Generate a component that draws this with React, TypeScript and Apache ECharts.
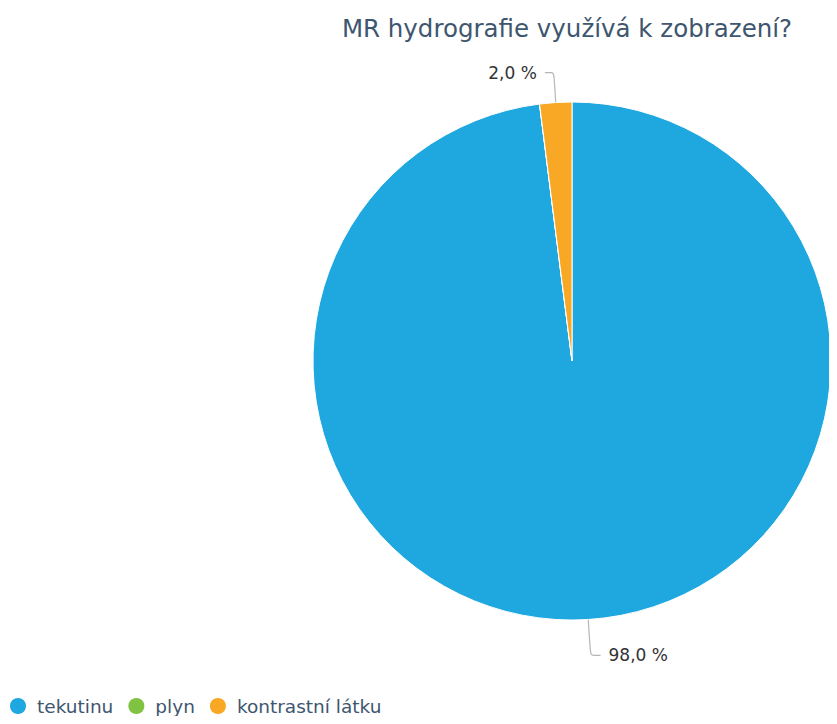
import React, { useEffect, useRef } from "react";
import * as echarts from "echarts";

const titleText = "MR hydrografie využívá k zobrazení?";
const categories = ["tekutinu", "plyn", "kontrastní látku"];
const values = [98.0, 0.0, 2.0];
const colors = ["#1fa8e0", "#80c342", "#f9a825"];

export default function App() {
  const ref = useRef<HTMLDivElement>(null);
  useEffect(() => {
    if (!ref.current) return;
    const chart = echarts.init(ref.current, null, { renderer: "svg" });
    const data = categories.map((name, i) => {
      const item: any = { name, value: values[i], itemStyle: { color: colors[i] } };
      if (values[i] === 0) {
        item.label = { show: false };
        item.labelLine = { show: false };
      }
      if (i === 0) {
        item.labelLine = { length: 36, length2: 10 };
      }
      return item;
    });
    chart.setOption({
      animation: false,
      title: {
        text: titleText,
        left: 554,
        textAlign: "center",
        top: 3,
        textStyle: {
          fontFamily: "DejaVu Sans",
          fontSize: 24.5,
          fontWeight: "normal",
          color: "#3e566e",
        },
      },
      legend: {
        left: 0,
        bottom: 0,
        padding: 0,
        icon: "circle",
        itemWidth: 28,
        itemHeight: 18,
        itemGap: 13,
        data: categories,
        textStyle: {
          fontFamily: "DejaVu Sans",
          fontSize: 18.5,
          color: "#3e566e",
        },
      },
      series: [
        {
          type: "pie",
          center: [564, 353],
          radius: 259,
          startAngle: 90,
          clockwise: true,
          data,
          itemStyle: { borderColor: "#ffffff", borderWidth: 1 },
          label: {
            show: true,
            formatter: (p: any) => p.value.toFixed(1).replace(".", ",") + " %",
            fontFamily: "DejaVu Sans",
            fontSize: 17,
            color: "#333333",
            distanceToLabelLine: 8,
          },
          labelLine: {
            show: true,
            length: 30,
            length2: 9,
            smooth: 0.2,
            lineStyle: { color: "#b5b5b5", width: 1.2 },
          },
          emphasis: { disabled: true },
        },
      ],
    });
    return () => chart.dispose();
  }, []);
  return <div ref={ref} style={{ width: 821, height: 708 }} />;
}
